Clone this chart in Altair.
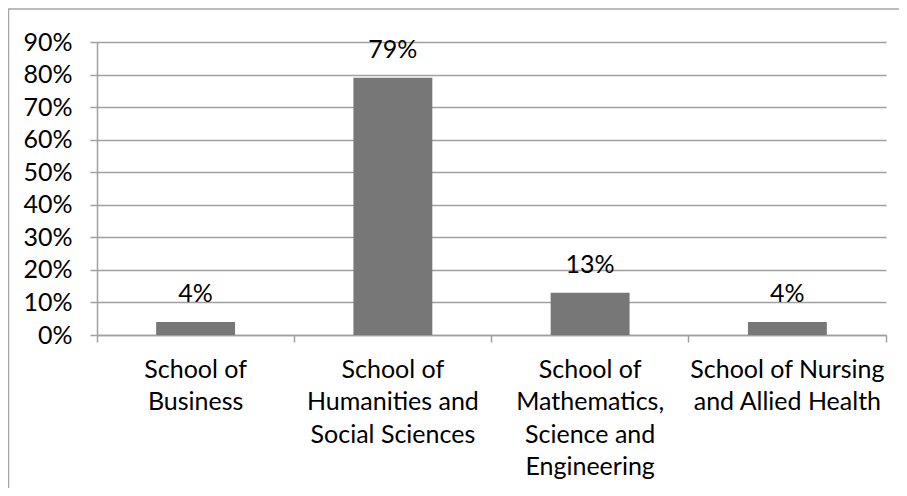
import altair as alt
import pandas as pd

schools = [
    "School of\nBusiness",
    "School of\nHumanities and\nSocial Sciences",
    "School of\nMathematics,\nScience and\nEngineering",
    "School of Nursing\nand Allied Health",
]
shares = [0.04, 0.79, 0.13, 0.04]
y_ticks = [0.0, 0.1, 0.2, 0.3, 0.4, 0.5, 0.6, 0.7, 0.8, 0.9]

df = pd.DataFrame({"school": schools, "share": shares})

FONT = "Lato"
FS = 25
GRID = "#a0a0a0"

W, H = 789, 293
PAD_L, PAD_T, PAD_R = 89, 34, 13
TOTAL_H = 480

x = alt.X(
    "school:N",
    sort=None,
    title=None,
    scale=alt.Scale(paddingInner=0, paddingOuter=0),
    axis=alt.Axis(
        labelExpr="split(datum.label, '\\n')",
        labelAngle=0,
        labelFont=FONT,
        labelFontSize=FS,
        labelColor="black",
        labelLineHeight=32.5,
        labelBaseline="alphabetic",
        labelPadding=35,
        labelLimit=0,
        labelOverlap=False,
        bandPosition=1,
        tickExtra=True,
        tickSize=7,
        tickColor=GRID,
        domainColor=GRID,
        domainWidth=1.5,
        tickWidth=1.5,
        grid=False,
    ),
)
y = alt.Y(
    "share:Q",
    title=None,
    scale=alt.Scale(domain=[0, 0.9], nice=False),
    axis=alt.Axis(
        values=y_ticks,
        format=".0%",
        labelFont=FONT,
        labelFontSize=FS,
        labelColor="black",
        labelPadding=18,
        tickSize=7,
        tickColor=GRID,
        tickWidth=1.5,
        domainColor=GRID,
        domainWidth=1.5,
        grid=True,
        gridColor=GRID,
        gridWidth=1.5,
    ),
)

base = alt.Chart(df)
bars = base.mark_bar(color="#777777", width=alt.RelativeBandSize(0.4)).encode(x=x, y=y)
labels = base.mark_text(
    font=FONT, fontSize=FS, color="black", baseline="alphabetic", dy=-19.5
).encode(x=x, y=y, text=alt.Text("share:Q", format=".0%"))

frame = alt.Chart(pd.DataFrame({"f": [0]})).mark_rect(
    fillOpacity=0, stroke="#a6a6a6", strokeWidth=1.5
).encode(
    x=alt.value(-88.5), x2=alt.value(W + 60), y=alt.value(-33), y2=alt.value(H + 300)
)

chart = (
    alt.layer(bars, labels, frame)
    .properties(
        width=W,
        height=H,
        autosize=alt.AutoSizeParams(type="none"),
        padding={"left": PAD_L, "top": PAD_T, "right": PAD_R, "bottom": TOTAL_H - PAD_T - H},
        background="white",
    )
    .configure_view(stroke=None)
)

chart.save("out.html", embed_options={"renderer": "svg", "actions": False})
